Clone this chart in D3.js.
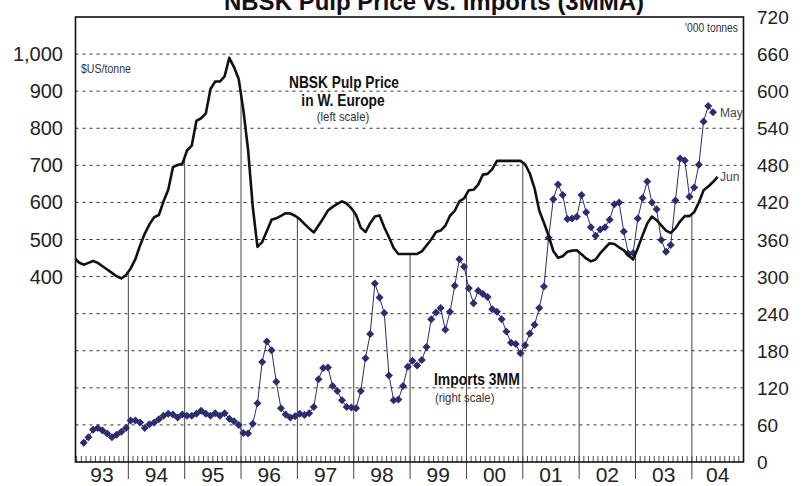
<!DOCTYPE html>
<html lang="en">
<head>
<meta charset="utf-8">
<title>NBSK pulp price and imports</title>
<script src="https://cdn.jsdelivr.net/npm/d3@7/dist/d3.min.js"></script>
<style>
  body { margin: 0; background: #fff; }
  text { font-family: "Liberation Sans", Arial, sans-serif; }
</style>
</head>
<body>
<script>
// month index 0 = Jan 1993, points plotted mid-month
var pulpFirstMonth = 0;      // Jan 93 .. Jun 04, US$/tonne (left scale)
var pulpPrice = [
  450, 438, 432, 437, 442, 437, 428, 419, 410, 401, 395, 404,
  422, 447, 484, 516, 541, 560, 566, 603, 634, 695, 701, 704,
  740, 753, 820, 827, 840, 906, 926, 926, 940, 990, 965, 933,
  849, 742, 588, 480, 493, 523, 553, 557, 564, 571, 570, 564,
  555, 542, 530, 519, 538, 557, 578, 588, 596, 603, 597, 584,
  566, 532, 520, 544, 562, 565, 533, 506, 477, 461, 461, 461,
  461, 461, 468, 484, 500, 520, 524, 537, 564, 577, 603, 611,
  633, 634, 648, 675, 677, 690, 712, 712, 712, 712, 712, 712,
  703, 678, 638, 578, 545, 510, 469, 451, 455, 467, 470, 471,
  460, 449, 441, 446, 463, 477, 490, 488, 479, 471, 458, 446,
  477, 511, 543, 562, 552, 538, 524, 518, 530, 549, 563, 563,
  574, 600, 633, 643, 655, 669
];

var importsFirstMonth = 2;   // Mar 93 .. May 04, '000 tonnes (right scale)
var imports3mm = [
  31, 40, 52, 55, 51, 46, 40, 44, 49, 55,
  67, 67, 64, 55, 61, 64, 69, 75, 78, 77, 72, 77,
  75, 75, 78, 83, 78, 75, 79, 75, 79, 70, 66, 60,
  47, 46, 62, 95, 162, 195, 181, 130, 87, 77, 72, 74,
  78, 76, 79, 89, 134, 152, 153, 123, 115, 100, 89, 88,
  87, 115, 168, 207, 289, 266, 241, 140, 100, 101, 123, 154,
  164, 156, 165, 186, 231, 242, 249, 214, 243, 285, 328, 316,
  281, 257, 277, 272, 267, 247, 243, 231, 211, 193, 191, 176,
  189, 208, 222, 249, 284, 363, 425, 449, 432, 393, 394, 397,
  432, 404, 380, 366, 376, 380, 392, 417, 420, 373, 337, 338,
  394, 427, 454, 420, 409, 359, 340, 351, 423, 491, 488, 429,
  444, 481, 551, 576, 566
];

var yearLabels = ["93", "94", "95", "96", "97", "98", "99", "00", "01", "02", "03", "04"];
var leftTicks = [400, 500, 600, 700, 800, 900, 1000];
var rightTicks = [0, 60, 120, 180, 240, 300, 360, 420, 480, 540, 600, 660, 720];

var width = 804, height = 486;
var plotL = 75.5, plotR = 743.5, plotT = 17, plotB = 462;

var svg = d3.select("body").append("svg")
    .attr("width", width)
    .attr("height", height);

var x = d3.scaleLinear().domain([0.75, 143]).range([plotL, plotR]);
var yR = d3.scaleLinear().domain([0, 720]).range([plotB, plotT]);
var yL = d3.scaleLinear().domain([-100, 1100]).range([plotB, plotT]);

var pulp = pulpPrice.map(function(v, i) { return {m: pulpFirstMonth + i, v: v}; });
var imp = imports3mm.map(function(v, i) { return {m: importsFirstMonth + i, v: v}; });

// title (cut off by the top edge)
svg.append("text")
    .attr("x", 434).attr("y", 10)
    .attr("text-anchor", "middle")
    .style("font-weight", "bold").style("font-size", "24px")
    .attr("fill", "#111")
    .text("NBSK Pulp Price vs. Imports (3MMA)");

svg.append("clipPath").attr("id", "plot")
  .append("rect")
    .attr("x", plotL).attr("y", plotT)
    .attr("width", plotR - plotL).attr("height", plotB - plotT);

// dashed grid
svg.append("g")
  .selectAll("line")
  .data(rightTicks.filter(function(d) { return d > 0 && d < 720; }))
  .enter().append("line")
    .attr("x1", plotL).attr("x2", plotR)
    .attr("y1", d => yR(d)).attr("y2", d => yR(d))
    .attr("stroke", "#333")
    .attr("stroke-width", 1)
    .attr("stroke-dasharray", "3,4");

// monthly ticks along the bottom
svg.append("g")
  .selectAll("line")
  .data(d3.range(1, 143))
  .enter().append("line")
    .attr("x1", d => x(d)).attr("x2", d => x(d))
    .attr("y1", plotB).attr("y2", plotB - 6)
    .attr("stroke", "#222").attr("stroke-width", 0.8);

// year boundaries: drop lines up to the pulp price, separators below axis
var yearStarts = d3.range(1, yearLabels.length).map(function(k) { return k * 12; });
function pulpAt(m) {
  var a = pulp[m - 1 - pulpFirstMonth], b = pulp[m - pulpFirstMonth];
  return (a.v + b.v) / 2;
}
svg.append("g")
  .selectAll("line")
  .data(yearStarts)
  .enter().append("line")
    .attr("x1", d => x(d)).attr("x2", d => x(d))
    .attr("y1", plotB + 17).attr("y2", d => yL(pulpAt(d)))
    .attr("stroke", "#444").attr("stroke-width", 1);

var g = svg.append("g").attr("clip-path", "url(#plot)");

// imports 3MM, navy line with diamonds
var navy = "#2b2d6e";
g.append("path")
    .datum(imp)
    .attr("fill", "none")
    .attr("stroke", navy)
    .attr("stroke-width", 1)
    .attr("d", d3.line().x(d => x(d.m + 0.5)).y(d => yR(d.v)));

g.append("g")
  .selectAll("path")
  .data(imp)
  .enter().append("path")
    .attr("d", d3.symbol().type(d3.symbolSquare).size(32))
    .attr("transform", d => "translate(" + x(d.m + 0.5) + "," + yR(d.v) + ") rotate(45)")
    .attr("fill", navy);

// pulp price
g.append("path")
    .datum(pulp)
    .attr("fill", "none")
    .attr("stroke", "#111")
    .attr("stroke-width", 2.6)
    .attr("stroke-linejoin", "round")
    .attr("d", d3.line().x(d => x(d.m + 0.5)).y(d => yL(d.v)));

// frame
svg.append("rect")
    .attr("x", plotL).attr("y", plotT)
    .attr("width", plotR - plotL).attr("height", plotB - plotT)
    .attr("fill", "none").attr("stroke", "#111").attr("stroke-width", 1.6);

// axes labels
svg.append("g")
  .selectAll("text")
  .data(leftTicks)
  .enter().append("text")
    .attr("x", 63).attr("y", d => yL(d) + 7)
    .attr("text-anchor", "end")
    .style("font-size", "20px").attr("fill", "#222")
    .text(d => d3.format(",")(d));

svg.append("g")
  .selectAll("text")
  .data(rightTicks)
  .enter().append("text")
    .attr("x", 757).attr("y", d => yR(d) + 7)
    .style("font-size", "19px").attr("fill", "#222")
    .text(d => d);

svg.append("g")
  .selectAll("text")
  .data(yearLabels)
  .enter().append("text")
    .attr("x", function(d, i) {
      var a = Math.max(i * 12, 0.75), b = Math.min(i * 12 + 12, 143);
      return x((a + b) / 2);
    })
    .attr("y", 482)
    .attr("text-anchor", "middle")
    .style("font-size", "21px").attr("fill", "#222")
    .text(d => d);

// notes and series labels (sx narrows the glyphs a little)
function note(t, px, py, size, anchor, weight, color, sx) {
  svg.append("text")
      .attr("transform", "translate(" + px + "," + py + ") scale(" + (sx || 1) + ",1)")
      .attr("text-anchor", anchor)
      .style("font-size", size + "px")
      .style("font-weight", weight)
      .attr("fill", color)
      .text(t);
}
note("$US/tonne", 81, 73, 12, "start", "normal", "#333", 0.88);
note("'000 tonnes", 738, 32, 12, "end", "normal", "#333", 0.86);
note("NBSK Pulp Price", 344, 88, 16, "middle", "bold", "#111", 0.86);
note("in W. Europe", 343, 106, 16, "middle", "bold", "#111", 0.86);
note("(left scale)", 343, 121, 12, "middle", "normal", "#333", 0.95);
note("Imports 3MM", 434, 385, 16, "start", "bold", "#111", 0.87);
note("(right scale)", 435, 402, 12, "start", "normal", "#333", 0.95);
note("May", 720, 117, 12, "start", "normal", "#444");
note("Jun", 720, 181, 12, "start", "normal", "#444");
</script>
</body>
</html>
